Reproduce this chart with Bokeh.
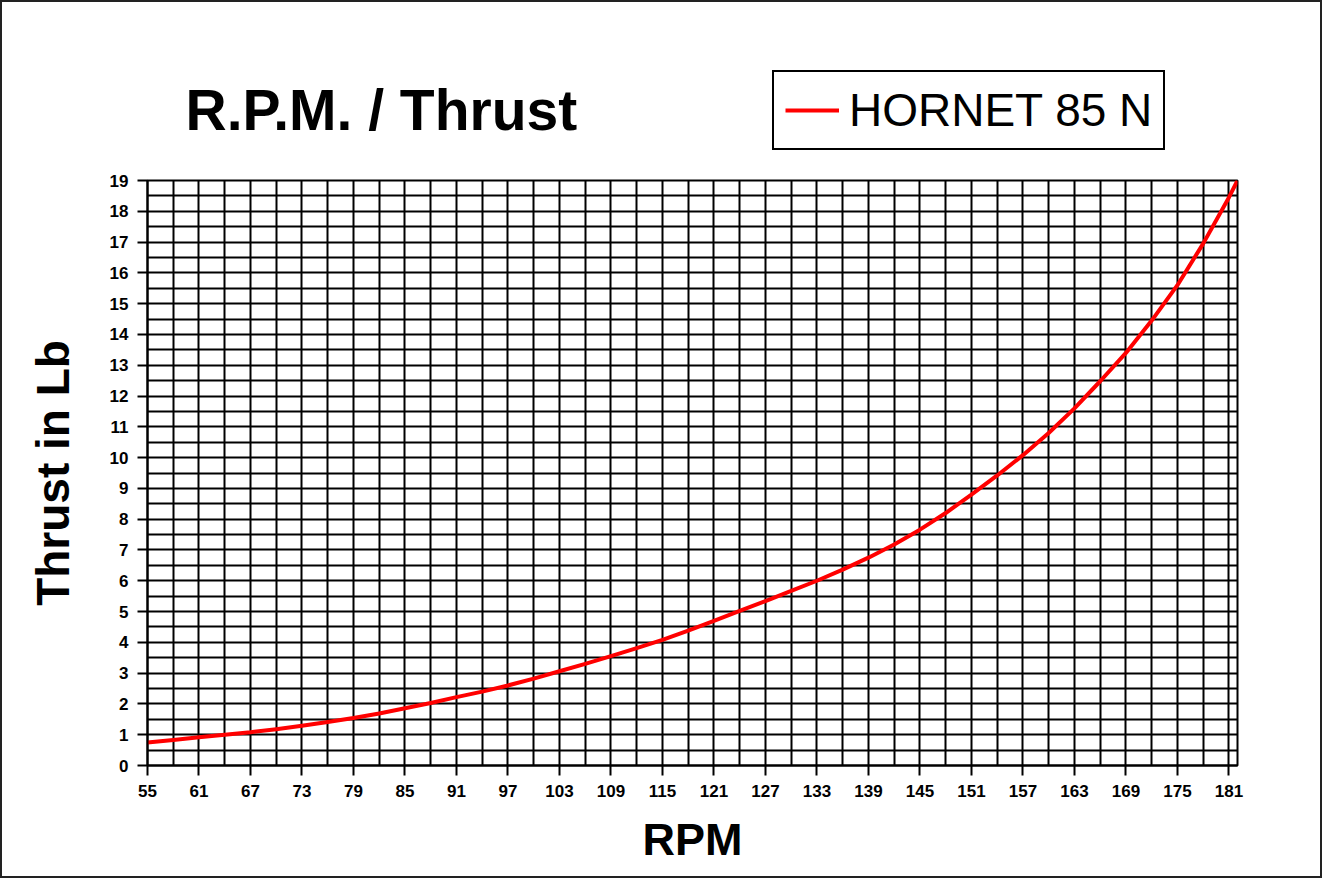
from bokeh.plotting import figure
from bokeh.layouts import column
from bokeh.models import FixedTicker, Range1d, Label, Legend, LegendItem, ColumnDataSource
from bokeh.embed import file_html
from bokeh.resources import INLINE

# ---- data ----
rpm = [55, 58, 61, 64, 67, 70, 73, 76, 79, 82, 85, 88, 91, 94, 97, 100, 103, 106,
       109, 112, 115, 118, 121, 124, 127, 130, 133, 136, 139, 142, 145, 148, 151,
       154, 157, 160, 163, 166, 169, 172, 175, 178, 181, 182]
thrust = [0.75, 0.83, 0.92, 1.0, 1.08, 1.18, 1.29, 1.41, 1.54, 1.69, 1.86, 2.03,
          2.22, 2.4, 2.6, 2.82, 3.06, 3.3, 3.55, 3.81, 4.08, 4.38, 4.7, 5.02,
          5.34, 5.67, 6.0, 6.36, 6.75, 7.18, 7.66, 8.2, 8.8, 9.42, 10.08, 10.8,
          11.6, 12.48, 13.4, 14.45, 15.6, 16.95, 18.45, 19.0]
x_ticks = list(range(55, 182, 6))
y_ticks = list(range(0, 20))
x_grid = list(range(55, 182, 3))
y_grid = [i * 0.5 for i in range(0, 39)]
title_text = "R.P.M. / Thrust"
series_name = "HORNET 85 N"
x_label = "RPM"
y_label = "Thrust in Lb"

FONT = "Liberation Sans"
W = 1318
HT = 150
HM = 724
BL, BR = 145, 83
FW = W - BL - BR

# ---------- header figure (title + legend) ----------
top = figure(width=W, height=HT, output_backend="svg", toolbar_location=None,
             x_range=Range1d(0, FW), y_range=Range1d(0, HT),
             x_axis_type=None, y_axis_type=None,
             min_border_left=BL, min_border_right=BR,
             min_border_top=0, min_border_bottom=0,
             background_fill_color="white", border_fill_color="white")
top.outline_line_color = None
top.title.visible = False

top.add_layout(Label(x=38, y=43, text=title_text, text_font=FONT,
                     text_font_style="bold", text_font_size="57px",
                     text_color="black", text_baseline="middle",
                     text_align="left"))

legend_src = ColumnDataSource(data=dict(x=[rpm[0]], y=[thrust[0]]))
lr = top.line("x", "y", source=legend_src, line_color="red", line_width=4)
legend = Legend(items=[LegendItem(label=series_name, renderers=[lr])],
                location=(625, 2), orientation="vertical",
                border_line_color="black", border_line_width=2,
                border_line_alpha=1.0,
                background_fill_color="white", background_fill_alpha=1.0,
                label_text_font=FONT, label_text_font_size="46px",
                label_text_color="black", glyph_width=54, glyph_height=40,
                label_standoff=10, padding=11, margin=0, label_height=40)
top.add_layout(legend, "center")

# ---------- main chart ----------
p = figure(width=W, height=HM, output_backend="svg", toolbar_location=None,
           x_range=Range1d(55, 182), y_range=Range1d(0, 19),
           min_border_left=BL, min_border_right=BR, min_border_top=28,
           min_border_bottom=111, background_fill_color="white",
           border_fill_color="white")

p.outline_line_color = "black"
p.outline_line_width = 2

p.xgrid.ticker = FixedTicker(ticks=x_grid)
p.ygrid.ticker = FixedTicker(ticks=y_grid)
for g in (p.xgrid, p.ygrid):
    g.grid_line_color = "black"
    g.grid_line_width = 2
    g.grid_line_alpha = 1.0

p.xaxis.ticker = FixedTicker(ticks=x_ticks)
p.yaxis.ticker = FixedTicker(ticks=y_ticks)
for ax in (p.xaxis, p.yaxis):
    ax.axis_line_color = "black"
    ax.axis_line_width = 2
    ax.major_tick_line_color = "black"
    ax.major_tick_line_width = 2
    ax.major_tick_in = 0
    ax.major_tick_out = 10
    ax.minor_tick_line_color = None
    ax.major_label_text_font = FONT
    ax.major_label_text_font_style = "bold"
    ax.major_label_text_font_size = "17px"
    ax.major_label_text_color = "black"
    ax.major_label_standoff = 9
    ax.axis_label_text_font = FONT
    ax.axis_label_text_font_style = "bold"
    ax.axis_label_text_color = "black"
p.xaxis.axis_label = x_label
p.yaxis.axis_label = y_label
p.xaxis.axis_label_text_font_size = "45px"
p.yaxis.axis_label_text_font_size = "46px"
p.xaxis.axis_label_standoff = 14
p.yaxis.axis_label_standoff = 28

src = ColumnDataSource(data=dict(x=rpm, y=thrust))
p.line("x", "y", source=src, line_color="red", line_width=4, line_join="round")

layout = column(top, p, spacing=0, styles={"border": "2px solid #222"})

open("out.html", "w").write(file_html(layout, INLINE))
